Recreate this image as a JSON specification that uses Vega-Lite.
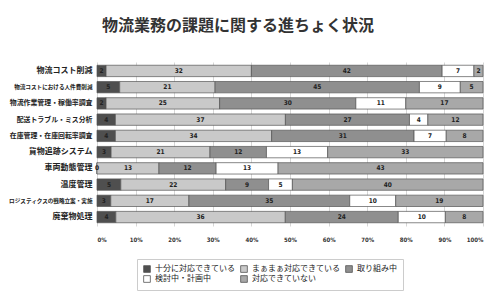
{
  "$schema": "https://vega.github.io/schema/vega-lite/v6.json",
  "width": 386,
  "height": 164,
  "autosize": {"type": "none"},
  "padding": {"left": 97, "top": 62, "right": 17, "bottom": 77},
  "background": "white",
  "config": {"view": {"stroke": null}, "font": "Noto Sans CJK JP"},
  "title": {
    "text": "物流業務の課題に関する進ちょく状況",
    "font": "Noto Sans CJK JP",
    "fontSize": 16,
    "fontWeight": 600,
    "color": "#333333",
    "anchor": "middle",
    "dx": -52,
    "offset": 28
  },
  "data": {
    "values": [
      {"item": "物流コスト削減", "status": "十分に対応できている", "value": 2},
      {"item": "物流コスト削減", "status": "まぁまぁ対応できている", "value": 32},
      {"item": "物流コスト削減", "status": "取り組み中", "value": 42},
      {"item": "物流コスト削減", "status": "検討中・計画中", "value": 7},
      {"item": "物流コスト削減", "status": "対応できていない", "value": 2},
      {"item": "物流コストにおける人件費削減", "status": "十分に対応できている", "value": 5},
      {"item": "物流コストにおける人件費削減", "status": "まぁまぁ対応できている", "value": 21},
      {"item": "物流コストにおける人件費削減", "status": "取り組み中", "value": 45},
      {"item": "物流コストにおける人件費削減", "status": "検討中・計画中", "value": 9},
      {"item": "物流コストにおける人件費削減", "status": "対応できていない", "value": 5},
      {"item": "物流作業管理・稼働率調査", "status": "十分に対応できている", "value": 2},
      {"item": "物流作業管理・稼働率調査", "status": "まぁまぁ対応できている", "value": 25},
      {"item": "物流作業管理・稼働率調査", "status": "取り組み中", "value": 30},
      {"item": "物流作業管理・稼働率調査", "status": "検討中・計画中", "value": 11},
      {"item": "物流作業管理・稼働率調査", "status": "対応できていない", "value": 17},
      {"item": "配送トラブル・ミス分析", "status": "十分に対応できている", "value": 4},
      {"item": "配送トラブル・ミス分析", "status": "まぁまぁ対応できている", "value": 37},
      {"item": "配送トラブル・ミス分析", "status": "取り組み中", "value": 27},
      {"item": "配送トラブル・ミス分析", "status": "検討中・計画中", "value": 4},
      {"item": "配送トラブル・ミス分析", "status": "対応できていない", "value": 12},
      {"item": "在庫管理・在庫回転率調査", "status": "十分に対応できている", "value": 4},
      {"item": "在庫管理・在庫回転率調査", "status": "まぁまぁ対応できている", "value": 34},
      {"item": "在庫管理・在庫回転率調査", "status": "取り組み中", "value": 31},
      {"item": "在庫管理・在庫回転率調査", "status": "検討中・計画中", "value": 7},
      {"item": "在庫管理・在庫回転率調査", "status": "対応できていない", "value": 8},
      {"item": "貨物追跡システム", "status": "十分に対応できている", "value": 3},
      {"item": "貨物追跡システム", "status": "まぁまぁ対応できている", "value": 21},
      {"item": "貨物追跡システム", "status": "取り組み中", "value": 12},
      {"item": "貨物追跡システム", "status": "検討中・計画中", "value": 13},
      {"item": "貨物追跡システム", "status": "対応できていない", "value": 33},
      {"item": "車両動態管理", "status": "十分に対応できている", "value": 0},
      {"item": "車両動態管理", "status": "まぁまぁ対応できている", "value": 13},
      {"item": "車両動態管理", "status": "取り組み中", "value": 12},
      {"item": "車両動態管理", "status": "検討中・計画中", "value": 13},
      {"item": "車両動態管理", "status": "対応できていない", "value": 43},
      {"item": "温度管理", "status": "十分に対応できている", "value": 5},
      {"item": "温度管理", "status": "まぁまぁ対応できている", "value": 22},
      {"item": "温度管理", "status": "取り組み中", "value": 9},
      {"item": "温度管理", "status": "検討中・計画中", "value": 5},
      {"item": "温度管理", "status": "対応できていない", "value": 40},
      {"item": "ロジスティクスの戦略立案・実施", "status": "十分に対応できている", "value": 3},
      {"item": "ロジスティクスの戦略立案・実施", "status": "まぁまぁ対応できている", "value": 17},
      {"item": "ロジスティクスの戦略立案・実施", "status": "取り組み中", "value": 35},
      {"item": "ロジスティクスの戦略立案・実施", "status": "検討中・計画中", "value": 10},
      {"item": "ロジスティクスの戦略立案・実施", "status": "対応できていない", "value": 19},
      {"item": "廃棄物処理", "status": "十分に対応できている", "value": 4},
      {"item": "廃棄物処理", "status": "まぁまぁ対応できている", "value": 36},
      {"item": "廃棄物処理", "status": "取り組み中", "value": 24},
      {"item": "廃棄物処理", "status": "検討中・計画中", "value": 10},
      {"item": "廃棄物処理", "status": "対応できていない", "value": 8}
    ]
  },
  "transform": [
    {"calculate": "indexof(['十分に対応できている','まぁまぁ対応できている','取り組み中','検討中・計画中','対応できていない'], datum.status)", "as": "ord"},
    {"stack": "value", "groupby": ["item"], "sort": [{"field": "ord", "order": "ascending"}], "offset": "normalize", "as": ["x0", "x1"]},
    {"calculate": "(datum.x0 + datum.x1) / 2", "as": "xm"}
  ],
  "encoding": {
    "y": {
      "field": "item",
      "type": "nominal",
      "sort": null,
      "scale": {"paddingInner": 0.3, "paddingOuter": 0.2},
      "axis": {
        "title": null,
        "domain": false,
        "ticks": false,
        "labelPadding": 5,
        "labelFont": "Noto Sans CJK JP",
        "labelFontWeight": "bold",
        "labelColor": "#222222",
        "labelFontSize": {"condition": [{"test": "length(datum.label) > 12", "value": 5.6}, {"test": "length(datum.label) > 10", "value": 6.9}], "value": 8},
        "labelLimit": 200
      }
    }
  },
  "layer": [
    {
      "mark": {"type": "bar", "stroke": "#555555", "strokeWidth": 0.7},
      "encoding": {
        "x": {
          "field": "x0",
          "type": "quantitative",
          "scale": {"domain": [0, 1], "nice": false},
          "axis": {
            "title": null,
            "format": ".0%",
            "values": [0, 0.1, 0.2, 0.3, 0.4, 0.5, 0.6, 0.7, 0.8, 0.9, 1],
            "labelOverlap": false,
            "domain": false,
            "ticks": false,
            "grid": true,
            "gridColor": "#cccccc",
            "gridWidth": 0.8,
            "labelFontSize": 6,
            "labelFontWeight": "bold",
            "labelColor": "#333333",
            "labelPadding": 10,
            "labelFont": "DejaVu Sans Condensed"
          }
        },
        "x2": {"field": "x1"},
        "fill": {
          "field": "status",
          "type": "nominal",
          "sort": ["十分に対応できている", "まぁまぁ対応できている", "取り組み中", "検討中・計画中", "対応できていない"],
          "scale": {
            "domain": ["十分に対応できている", "まぁまぁ対応できている", "取り組み中", "検討中・計画中", "対応できていない"],
            "range": ["#4f4f4f", "#c9c9c9", "#8f8f8f", "#ffffff", "#a8a8a8"]
          },
          "legend": {
            "title": null,
            "orient": "none",
            "legendX": 40,
            "legendY": 197,
            "direction": "horizontal",
            "columns": 3,
            "columnPadding": 4,
            "rowPadding": 0,
            "padding": 6,
            "strokeColor": "#cccccc",
            "fillColor": "#ffffff",
            "symbolType": "square",
            "symbolSize": 45,
            "symbolStrokeColor": "#555555",
            "symbolStrokeWidth": 0.8,
            "labelFont": "Noto Sans CJK JP",
            "labelFontSize": 8,
            "labelColor": "#222222",
            "labelLimit": 200,
            "gridAlign": "each"
          }
        }
      }
    },
    {
      "mark": {"type": "text", "fontSize": 6.5, "fontWeight": "bold", "color": "#222222", "font": "DejaVu Sans Condensed", "baseline": "middle"},
      "encoding": {
        "x": {
          "field": "xm",
          "type": "quantitative",
          "axis": {
            "title": null,
            "format": ".0%",
            "values": [0, 0.1, 0.2, 0.3, 0.4, 0.5, 0.6, 0.7, 0.8, 0.9, 1],
            "labelOverlap": false,
            "domain": false,
            "ticks": false,
            "grid": true,
            "gridColor": "#cccccc",
            "gridWidth": 0.8,
            "labelFontSize": 6,
            "labelFontWeight": "bold",
            "labelColor": "#333333",
            "labelPadding": 10,
            "labelFont": "DejaVu Sans Condensed"
          }
        },
        "text": {"field": "value", "type": "quantitative"}
      }
    }
  ]
}
